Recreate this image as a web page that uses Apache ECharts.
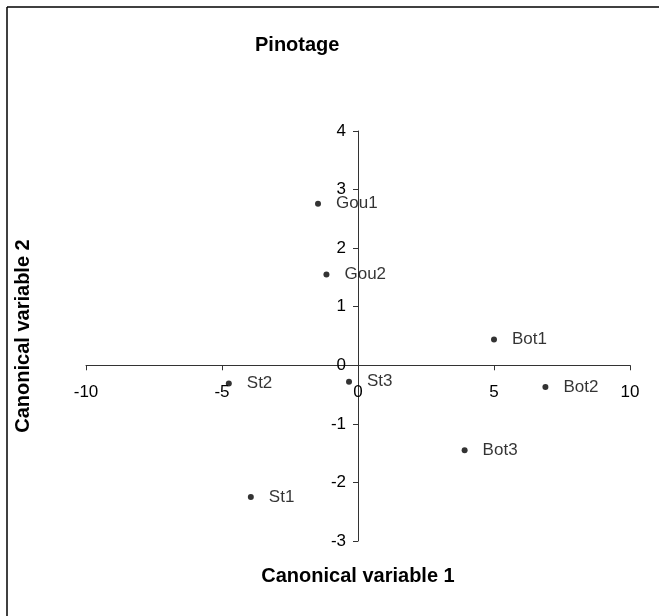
<!DOCTYPE html>
<html>
<head>
<meta charset="utf-8">
<script src="https://cdn.jsdelivr.net/npm/echarts@6/dist/echarts.min.js"></script>
<style>
  html, body { margin: 0; padding: 0; background: #fff; }
  #main { width: 659px; height: 616px; }
</style>
</head>
<body>
<div id="main"></div>
<script>
// 样本名称及两个典型变量得分
var names = ['Gou1', 'Gou2', 'Bot1', 'Bot2', 'Bot3', 'St1', 'St2', 'St3'];
var canVar1 = [-1.47, -1.16, 5.0, 6.89, 3.92, -3.94, -4.75, -0.33];
var canVar2 = [2.76, 1.55, 0.44, -0.37, -1.45, -2.25, -0.31, -0.28];

var xTicks = { min: -10, max: 10, interval: 5 };
var yTicks = { min: -3, max: 4, interval: 1 };

var points = names.map(function (n, i) {
    return { name: n, value: [canVar1[i], canVar2[i]] };
});

var font = 'Liberation Sans, Arial, Helvetica, sans-serif';

// 网格位置
var grid = { left: 86, right: 29, top: 131, bottom: 75 };
var gridW = 659 - grid.left - grid.right;
var gridH = 616 - grid.top - grid.bottom;
// 轴线穿过原点：用 offset 把整条轴（含刻度标签）移到 0 处
var xAxisOffset = -(0 - yTicks.min) / (yTicks.max - yTicks.min) * gridH;
var yAxisOffset = -(0 - xTicks.min) / (xTicks.max - xTicks.min) * gridW;

var myChart = echarts.init(document.getElementById('main'));

var option = {
    backgroundColor: '#fff',
    animation: false,
    title: {
        text: 'Pinotage',
        left: 255,
        top: 35,
        padding: 0,
        textStyle: { fontFamily: font, fontSize: 20, fontWeight: 'bold', color: '#000' }
    },
    grid: {
        left: grid.left, right: grid.right, top: grid.top, bottom: grid.bottom,
        containLabel: false,
        outerBoundsMode: 'none'
    },
    xAxis: {
        type: 'value',
        min: xTicks.min,
        max: xTicks.max,
        interval: xTicks.interval,
        offset: xAxisOffset,
        name: 'Canonical variable 1',
        nameLocation: 'middle',
        nameGap: 201,
        nameTextStyle: { fontFamily: font, fontSize: 20, fontWeight: 'bold', color: '#000' },
        axisLine: { onZero: false, lineStyle: { color: '#333', width: 1 } },
        axisTick: { show: true, length: 5, lineStyle: { color: '#333' } },
        axisLabel: { fontFamily: font, fontSize: 17, color: '#000', margin: 19 },
        splitLine: { show: false }
    },
    yAxis: {
        type: 'value',
        min: yTicks.min,
        max: yTicks.max,
        interval: yTicks.interval,
        offset: yAxisOffset,
        name: 'Canonical variable 2',
        nameLocation: 'middle',
        nameGap: 325,
        nameTextStyle: { fontFamily: font, fontSize: 20, fontWeight: 'bold', color: '#000' },
        axisLine: { onZero: false, lineStyle: { color: '#333', width: 1 } },
        axisTick: { show: true, length: 5, lineStyle: { color: '#333' } },
        axisLabel: { fontFamily: font, fontSize: 17, color: '#000', margin: 12 },
        splitLine: { show: false }
    },
    graphic: [
        { type: 'line', shape: { x1: 7, y1: 7, x2: 659, y2: 7 }, style: { stroke: '#000', lineWidth: 1.5 } },
        { type: 'line', shape: { x1: 7, y1: 7, x2: 7, y2: 616 }, style: { stroke: '#000', lineWidth: 1.5 } }
    ],
    series: [{
        type: 'scatter',
        data: points,
        symbol: 'circle',
        symbolSize: 6,
        itemStyle: { color: '#000' },
        label: {
            show: true,
            position: 'right',
            distance: 15,
            formatter: '{b}',
            fontFamily: font,
            fontSize: 17,
            color: '#000'
        }
    }]
};
myChart.setOption(option);
</script>
</body>
</html>
